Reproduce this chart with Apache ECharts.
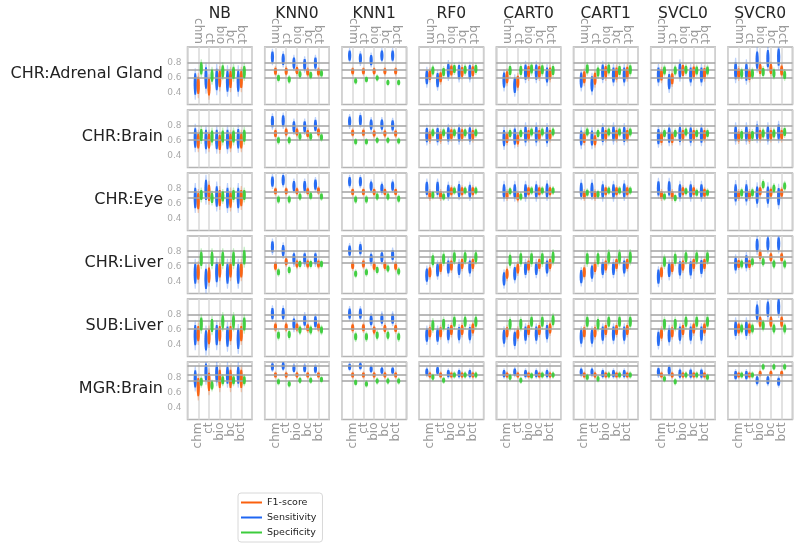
<!DOCTYPE html>
<html><head><meta charset="utf-8">
<script src="https://cdn.jsdelivr.net/npm/echarts@6/dist/echarts.min.js"></script>
<style>html,body{margin:0;padding:0;background:#fff}#c{width:800px;height:546px}</style>
</head><body><div id="c"></div>
<script>
const categories = ['chm','ct','bio','bc','bct'];
const models = ['NB','KNN0','KNN1','RF0','CART0','CART1','SVCL0','SVCR0'];
const datasets = ['CHR:Adrenal Gland','CHR:Brain','CHR:Eye','CHR:Liver','SUB:Liver','MGR:Brain'];
const yTicks = [0.4, 0.6, 0.8];
const metricNames = ['F1-score','Sensitivity','Specificity'];

// reference lines per row (dataset)
const refLines = [
  [0.80, 0.707, 0.604],
  [0.80, 0.707, 0.618],
  [0.77, 0.68],
  [0.818, 0.738, 0.662],
  [0.813, 0.716, 0.618],
  [0.956, 0.853, 0.76]
];

// medians [row][model][category]
const sensMedian = [
  [[0.52,0.60,0.58,0.56,0.56],[0.88,0.85,0.80,0.78,0.80],[0.90,0.86,0.84,0.90,0.90],[0.61,0.57,0.70,0.68,0.68],[0.57,0.50,0.68,0.68,0.64],[0.57,0.52,0.68,0.64,0.64],[0.64,0.55,0.70,0.64,0.64],[0.70,0.68,0.84,0.86,0.88]],
  [[0.64,0.62,0.62,0.62,0.63],[0.86,0.87,0.79,0.79,0.81],[0.86,0.88,0.82,0.82,0.81],[0.68,0.68,0.69,0.69,0.69],[0.64,0.66,0.69,0.69,0.68],[0.64,0.64,0.69,0.70,0.69],[0.66,0.68,0.69,0.68,0.68],[0.70,0.70,0.72,0.70,0.72]],
  [[0.68,0.79,0.70,0.68,0.68],[0.90,0.92,0.84,0.84,0.86],[0.90,0.90,0.84,0.81,0.84],[0.81,0.81,0.77,0.78,0.77],[0.77,0.77,0.77,0.77,0.78],[0.79,0.79,0.77,0.77,0.78],[0.81,0.81,0.77,0.77,0.77],[0.75,0.75,0.72,0.72,0.70]],
  [[0.51,0.44,0.53,0.51,0.51],[0.87,0.82,0.71,0.71,0.71],[0.82,0.84,0.71,0.73,0.76],[0.49,0.56,0.60,0.58,0.60],[0.44,0.51,0.58,0.58,0.60],[0.47,0.53,0.58,0.58,0.60],[0.47,0.56,0.58,0.58,0.60],[0.64,0.67,0.89,0.91,0.91]],
  [[0.53,0.46,0.53,0.51,0.48],[0.82,0.82,0.68,0.73,0.71],[0.82,0.82,0.73,0.75,0.75],[0.53,0.53,0.55,0.55,0.55],[0.51,0.48,0.55,0.55,0.57],[0.51,0.51,0.55,0.55,0.55],[0.48,0.53,0.55,0.55,0.55],[0.62,0.62,0.84,0.88,0.91]],
  [[0.79,0.88,0.86,0.84,0.84],[0.95,0.96,0.93,0.93,0.92],[0.95,0.96,0.92,0.90,0.90],[0.88,0.90,0.86,0.86,0.86],[0.86,0.88,0.86,0.86,0.86],[0.88,0.88,0.86,0.86,0.86],[0.88,0.90,0.86,0.86,0.86],[0.84,0.84,0.77,0.77,0.75]]
];
const f1Median = [
  [[0.50,0.48,0.59,0.58,0.58],[0.69,0.69,0.70,0.68,0.68],[0.69,0.69,0.69,0.69,0.69],[0.64,0.61,0.70,0.68,0.69],[0.61,0.55,0.68,0.68,0.66],[0.61,0.59,0.68,0.66,0.67],[0.64,0.59,0.70,0.68,0.66],[0.66,0.64,0.72,0.72,0.70]],
  [[0.60,0.60,0.58,0.60,0.60],[0.70,0.72,0.72,0.70,0.72],[0.71,0.71,0.70,0.70,0.70],[0.66,0.66,0.69,0.69,0.68],[0.64,0.62,0.68,0.68,0.68],[0.64,0.61,0.68,0.68,0.68],[0.64,0.64,0.68,0.68,0.68],[0.66,0.66,0.68,0.68,0.68]],
  [[0.64,0.75,0.68,0.66,0.68],[0.77,0.77,0.77,0.77,0.78],[0.76,0.76,0.76,0.76,0.76],[0.72,0.72,0.77,0.77,0.77],[0.72,0.70,0.77,0.77,0.77],[0.72,0.72,0.77,0.77,0.77],[0.72,0.72,0.77,0.77,0.75],[0.72,0.72,0.77,0.75,0.75]],
  [[0.53,0.49,0.56,0.56,0.56],[0.61,0.67,0.64,0.64,0.64],[0.62,0.64,0.61,0.62,0.61],[0.53,0.60,0.62,0.64,0.64],[0.51,0.58,0.62,0.64,0.64],[0.53,0.60,0.62,0.64,0.64],[0.53,0.60,0.62,0.64,0.64],[0.64,0.64,0.76,0.73,0.73]],
  [[0.55,0.51,0.55,0.55,0.55],[0.64,0.64,0.64,0.63,0.64],[0.63,0.63,0.60,0.62,0.62],[0.57,0.57,0.60,0.60,0.62],[0.57,0.55,0.60,0.60,0.62],[0.57,0.57,0.60,0.60,0.60],[0.55,0.57,0.60,0.62,0.62],[0.62,0.62,0.71,0.71,0.71]],
  [[0.68,0.75,0.79,0.79,0.79],[0.84,0.84,0.84,0.84,0.84],[0.84,0.84,0.84,0.84,0.84],[0.84,0.84,0.84,0.84,0.84],[0.84,0.84,0.84,0.84,0.84],[0.84,0.84,0.84,0.84,0.84],[0.84,0.84,0.84,0.84,0.84],[0.84,0.84,0.86,0.86,0.86]]
];
const specMedian = [
  [[0.73,0.63,0.69,0.67,0.68],[0.60,0.58,0.65,0.64,0.66],[0.56,0.58,0.60,0.54,0.54],[0.70,0.68,0.72,0.71,0.72],[0.70,0.70,0.72,0.71,0.70],[0.72,0.68,0.72,0.70,0.71],[0.70,0.70,0.71,0.70,0.70],[0.66,0.66,0.68,0.66,0.64]],
  [[0.68,0.66,0.66,0.66,0.67],[0.61,0.61,0.66,0.66,0.65],[0.59,0.59,0.61,0.61,0.60],[0.71,0.71,0.71,0.71,0.71],[0.70,0.70,0.72,0.72,0.72],[0.72,0.70,0.72,0.72,0.72],[0.70,0.70,0.72,0.70,0.70],[0.68,0.68,0.70,0.70,0.72]],
  [[0.72,0.68,0.70,0.72,0.72],[0.66,0.66,0.70,0.71,0.70],[0.66,0.66,0.70,0.70,0.67],[0.72,0.70,0.78,0.78,0.78],[0.77,0.70,0.78,0.78,0.78],[0.75,0.73,0.78,0.78,0.78],[0.70,0.68,0.77,0.75,0.75],[0.75,0.75,0.86,0.81,0.84]],
  [[0.71,0.71,0.71,0.71,0.73],[0.53,0.56,0.64,0.64,0.64],[0.51,0.53,0.56,0.58,0.54],[0.69,0.71,0.73,0.73,0.73],[0.69,0.71,0.71,0.71,0.73],[0.71,0.71,0.73,0.73,0.73],[0.67,0.71,0.73,0.73,0.73],[0.64,0.67,0.67,0.64,0.64]],
  [[0.68,0.66,0.71,0.71,0.68],[0.53,0.54,0.60,0.60,0.60],[0.51,0.51,0.53,0.53,0.51],[0.66,0.68,0.71,0.71,0.71],[0.68,0.68,0.71,0.71,0.73],[0.71,0.68,0.71,0.71,0.71],[0.68,0.68,0.71,0.71,0.71],[0.62,0.62,0.66,0.62,0.62]],
  [[0.75,0.70,0.77,0.77,0.77],[0.75,0.72,0.77,0.77,0.78],[0.74,0.72,0.76,0.76,0.76],[0.81,0.77,0.84,0.84,0.84],[0.81,0.77,0.83,0.84,0.84],[0.81,0.79,0.84,0.84,0.84],[0.79,0.75,0.84,0.84,0.81],[0.84,0.84,0.95,0.95,0.95]]
];

// half-range of each violin, [row][model]
const sensSpread = [
  [0.21,0.11,0.10,0.14,0.15,0.15,0.15,0.17],
  [0.19,0.11,0.10,0.14,0.16,0.15,0.15,0.15],
  [0.20,0.10,0.09,0.13,0.14,0.14,0.14,0.17],
  [0.20,0.11,0.10,0.13,0.13,0.13,0.14,0.13],
  [0.20,0.11,0.10,0.13,0.14,0.14,0.14,0.15],
  [0.17,0.07,0.06,0.07,0.07,0.07,0.08,0.08]
];
const f1Spread = [
  [0.17,0.07,0.06,0.10,0.12,0.12,0.11,0.10],
  [0.15,0.07,0.06,0.10,0.10,0.10,0.10,0.10],
  [0.16,0.06,0.06,0.08,0.08,0.08,0.08,0.08],
  [0.15,0.07,0.07,0.10,0.10,0.10,0.10,0.08],
  [0.15,0.07,0.07,0.10,0.10,0.10,0.10,0.10],
  [0.18,0.05,0.05,0.05,0.05,0.05,0.05,0.05]
];
const specSpread = [
  [0.12,0.06,0.05,0.08,0.09,0.09,0.08,0.08],
  [0.12,0.06,0.05,0.07,0.07,0.07,0.07,0.08],
  [0.10,0.06,0.06,0.06,0.06,0.06,0.06,0.07],
  [0.14,0.06,0.06,0.10,0.11,0.11,0.10,0.07],
  [0.13,0.07,0.07,0.10,0.10,0.10,0.10,0.08],
  [0.08,0.05,0.05,0.05,0.05,0.05,0.05,0.05]
];

const COLORS = {'F1-score':'#fa600e','Sensitivity':'#1f66f2','Specificity':'#3ccc3c'};
const OFFSET = {'Sensitivity':-0.28,'F1-score':0.0,'Specificity':0.28};
const FONT = 'DejaVu Sans';

function renderViolin(params, api){
  const x = api.value(0), m = api.value(1), s = api.value(2);
  const color = api.visual('color');
  function shape(half, w){
    const N = 10, right = [], left = [];
    for (let i = 0; i <= N; i++){
      const t = -1 + 2*i/N;
      const p = api.coord([x, m + t*half]);
      const ww = w*Math.sqrt(Math.max(0, 1 - 0.75*t*t));
      right.push([p[0]+ww, p[1]]);
      left.unshift([p[0]-ww, p[1]]);
    }
    return right.concat(left);
  }
  return {type:'group', children:[
    {type:'polygon', shape:{points:shape(s,1.1)}, style:{fill:color, opacity:0.3}},
    {type:'polygon', shape:{points:shape(s*0.68,1.6)}, style:{fill:color, opacity:0.95}}
  ]};
}

const PL = 187.5, PT = 47, PW = 64.5, PH = 57.5, DX = 77.2, DY = 63;
const grids = [], xAxes = [], yAxes = [], series = [], graphics = [];

for (let r = 0; r < datasets.length; r++){
  for (let c = 0; c < models.length; c++){
    const idx = r*models.length + c;
    const left = PL + DX*c, top = PT + DY*r;
    grids.push({left:left, top:top, width:PW, height:PH, show:true, borderColor:'#b4b4b4', borderWidth:1.5, backgroundColor:'rgba(0,0,0,0)'});
    const showX = (r === 0 || r === datasets.length-1);
    xAxes.push({type:'value', gridIndex:idx, min:0, max:6, interval:1,
      position: r === 0 ? 'top' : 'bottom',
      axisLine:{show:false}, axisTick:{show:false},
      splitLine:{show:true, lineStyle:{color:'#d8d8d8', width:1.5}},
      axisLabel:{show:showX, rotate:90, fontSize:12, color:'#9a9a9a', fontFamily:FONT, margin:3,
        formatter: v => categories[Math.round(v)-1] || ''}});
    yAxes.push({type:'value', gridIndex:idx, min:0.245, max:1.015,
      axisLine:{show:false}, axisTick:{show:false}, splitLine:{show:false},
      axisLabel:{show:c===0, customValues:yTicks, fontSize:9, color:'#aaaaaa', fontFamily:FONT, margin:6,
        formatter: v => v.toFixed(1)}});
    const sets = [
      ['Sensitivity', sensMedian, sensSpread],
      ['F1-score', f1Median, f1Spread],
      ['Specificity', specMedian, specSpread]
    ];
    sets.forEach(([name, med, spr], si) => {
      const s = {
        type:'custom', name:name, xAxisIndex:idx, yAxisIndex:idx, clip:true,
        renderItem: renderViolin,
        itemStyle:{color:COLORS[name]},
        data: categories.map((cat, k) => [k+1+OFFSET[name], med[r][c][k], spr[r][c]]),
        z: 3 + si
      };
      if (si === 0){
        s.markLine = {silent:true, symbol:'none', label:{show:false}, animation:false,
          lineStyle:{color:'#a3a3a3', width:1.5, type:'solid'},
          data: refLines[r].map(v => ({yAxis:v}))};
      }
      series.push(s);
    });
  }
}

models.forEach((m, c) => {
  graphics.push({type:'text', x: PL + DX*c + PW/2, y: 14,
    style:{text:m, align:'center', verticalAlign:'middle', fontSize:15.5, fill:'#262626', fontFamily:FONT}});
});
datasets.forEach((d, r) => {
  graphics.push({type:'text', x: 163, y: PT + DY*r + PH/2 - 2,
    style:{text:d, align:'right', verticalAlign:'middle', fontSize:16, fill:'#222', fontFamily:FONT}});
});

const option = {
  animation:false,
  backgroundColor:'#ffffff',
  grid: grids, xAxis: xAxes, yAxis: yAxes, series: series,
  graphic: graphics,
  legend: {
    data: metricNames, orient:'vertical', left:238, top:493,
    icon:'rect', itemWidth:21, itemHeight:2, itemGap:4,
    padding:[4,6,4,3], borderColor:'#d8d8d8', borderWidth:1, borderRadius:3,
    textStyle:{fontSize:9.5, color:'#222', fontFamily:FONT, lineHeight:11}
  }
};
const chart = echarts.init(document.getElementById('c'), null, {renderer:'canvas'});
chart.setOption(option);
</script>
</body></html>
